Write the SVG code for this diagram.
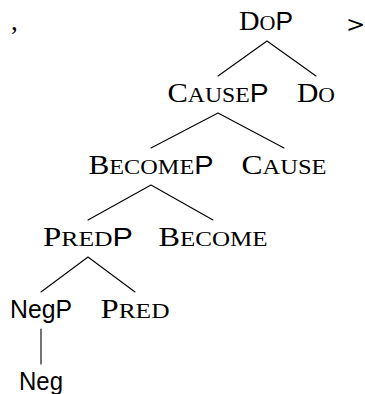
<svg xmlns="http://www.w3.org/2000/svg" width="365" height="394" viewBox="0 0 365 394">
  <style>
    .lbl { font-family: "Liberation Serif", "Times New Roman", serif; font-size: 27px; fill: #000; text-anchor: middle; }
    .sc { font-size: 21px; }
    .sf { font-family: "Liberation Sans", Arial, sans-serif; font-size: 25px; }
    .plain { font-family: "Liberation Serif", "Times New Roman", serif; font-size: 27px; fill: #000; }
    .rel { font-family: "DejaVu Serif", "Liberation Serif", serif; font-size: 23px; fill: #000; }
    .edge { stroke: #000; stroke-width: 1.1; fill: none; stroke-linecap: round; }
  </style>
  <rect width="365" height="394" fill="#fff"/>

  <!-- surrounding punctuation -->
  <text class="plain" x="11" y="30">,</text>
  <text class="rel" x="346" y="32">&gt;</text>

  <!-- tree edges -->
  <g id="connectors">
    <path class="edge" d="M267 41 L218 76 M267 41 L316 76"/>
    <path class="edge" d="M218 113 L151 148 M218 113 L284 148"/>
    <path class="edge" d="M151 185 L88 220 M151 185 L213 220"/>
    <path class="edge" d="M88 257 L41 292 M88 257 L135 292"/>
    <path class="edge" d="M41 329 L41 364"/>
  </g>

  <!-- nodes -->
  <g id="DoP">
    <text class="lbl" x="266" y="30" textLength="54" lengthAdjust="spacingAndGlyphs">D<tspan class="sc">O</tspan><tspan class="sf">P</tspan></text>
  </g>
  <g id="CauseP">
    <text class="lbl" x="218" y="102" textLength="101" lengthAdjust="spacingAndGlyphs">C<tspan class="sc">AUSE</tspan><tspan class="sf">P</tspan></text>
  </g>
  <g id="Do">
    <text class="lbl" x="316" y="102" textLength="38" lengthAdjust="spacingAndGlyphs">D<tspan class="sc">O</tspan></text>
  </g>
  <g id="BecomeP">
    <text class="lbl" x="151" y="174" textLength="125" lengthAdjust="spacingAndGlyphs">B<tspan class="sc">ECOME</tspan><tspan class="sf">P</tspan></text>
  </g>
  <g id="Cause">
    <text class="lbl" x="284" y="174" textLength="85" lengthAdjust="spacingAndGlyphs">C<tspan class="sc">AUSE</tspan></text>
  </g>
  <g id="PredP">
    <text class="lbl" x="88" y="246" textLength="90" lengthAdjust="spacingAndGlyphs">P<tspan class="sc">RED</tspan><tspan class="sf">P</tspan></text>
  </g>
  <g id="Become">
    <text class="lbl" x="213" y="246" textLength="109" lengthAdjust="spacingAndGlyphs">B<tspan class="sc">ECOME</tspan></text>
  </g>
  <g id="NegP">
    <text class="lbl sf" x="41" y="318" textLength="62" lengthAdjust="spacingAndGlyphs">NegP</text>
  </g>
  <g id="Pred">
    <text class="lbl" x="135" y="318" textLength="69" lengthAdjust="spacingAndGlyphs">P<tspan class="sc">RED</tspan></text>
  </g>
  <g id="Neg">
    <text class="lbl sf" x="41" y="390" textLength="44" lengthAdjust="spacingAndGlyphs">Neg</text>
  </g>
</svg>
